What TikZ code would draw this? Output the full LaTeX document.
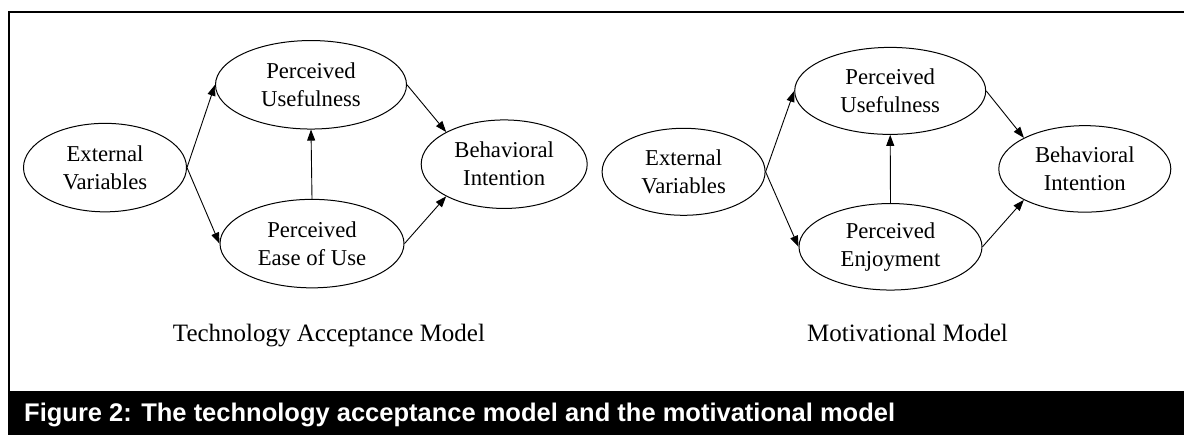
\documentclass[tikz,border=0pt]{standalone}
\usepackage{fontspec}
\setmainfont{Liberation Serif}
\newfontfamily\capfont{Liberation Sans}
\usetikzlibrary{shapes.geometric,arrows.meta}
\begin{document}
\begin{tikzpicture}[x=1bp,y=-1bp,
  oval/.style={draw,ellipse,line width=1bp,inner sep=0pt,align=center,
    font=\fontsize{22.7bp}{28bp}\selectfont},
  link/.style={line width=0.9bp,-{Triangle[length=11bp,width=8bp]}},
  captext/.style={inner sep=0pt,anchor=base,font=\fontsize{25bp}{28bp}\selectfont},
  ]
\useasboundingbox (0,0) rectangle (1184,435);
% frame and caption bar
\fill[black] (8,391) rectangle (1184,435);
\draw[line width=2.2bp] (9.1,391) -- (9.1,12.1) -- (1184,12.1);
\node[anchor=base west,inner sep=0pt,text=white,
  font=\capfont\bfseries\fontsize{25.5bp}{28bp}\selectfont] (fig) at (24,421.5)
  {Figure 2: The technology acceptance model and the motivational model};

% left diagram
\node[oval,minimum width=163bp,minimum height=88.5bp] (ev1) at (105,167.6) {External\\Variables};
\node[oval,minimum width=191bp,minimum height=88.5bp] (pu1) at (311,84.8) {Perceived\\Usefulness};
\node[oval,minimum width=184bp,minimum height=88.5bp] (pe1) at (312,243.6) {Perceived\\Ease of Use};
\node[oval,minimum width=166bp,minimum height=88.5bp] (bi1) at (504.2,164.2) {Behavioral\\Intention};
\draw[link] (ev1.east) -- (pu1.west);
\draw[link] (ev1.east) -- (pe1.west);
\draw[link] (pe1.north) -- (pu1.south);
\draw[link] (pu1.east) -- (bi1.151);
\draw[link] (pe1.east) -- (bi1.209);
\node[captext] (cap1) at (329,342) {Technology Acceptance Model};

% right diagram
\node[oval,minimum width=163bp,minimum height=87bp] (ev2) at (683.6,171.8) {External\\Variables};
\node[oval,minimum width=191bp,minimum height=87bp] (pu2) at (890.2,90.9) {Perceived\\Usefulness};
\node[oval,minimum width=183bp,minimum height=86.5bp] (pe2) at (890.5,246.8) {Perceived\\Enjoyment};
\node[oval,minimum width=172bp,minimum height=86.5bp] (bi2) at (1084.8,168.9) {Behavioral\\Intention};
\draw[link] (ev2.east) -- (pu2.west);
\draw[link] (ev2.east) -- (pe2.west);
\draw[link] (pe2.north) -- (pu2.south);
\draw[link] (pu2.east) -- (bi2.153);
\draw[link] (pe2.east) -- (bi2.207);
\node[captext] (cap2) at (907.5,342) {Motivational Model};
\end{tikzpicture}
\end{document}
